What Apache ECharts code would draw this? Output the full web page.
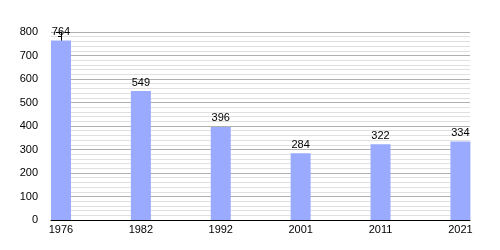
<!DOCTYPE html>
<html><head><meta charset="utf-8">
<script src="https://cdn.jsdelivr.net/npm/echarts@6/dist/echarts.min.js"></script>
<style>html,body{margin:0;padding:0;background:#fff}#c{width:500px;height:250px}</style>
</head><body><div id="c"></div>
<script>
const categories = ['1976', '1982', '1992', '2001', '2011', '2021'];
const values = [764, 549, 396, 284, 322, 334];
const yTicks = [0, 100, 200, 300, 400, 500, 600, 700, 800];

const chart = echarts.init(document.getElementById('c'), null, {renderer: 'canvas'});
const font = 'Liberation Sans, Arial, sans-serif';
chart.setOption({
  animation: false,
  grid: {left: 51, right: 30, top: 32, bottom: 30, containLabel: false},
  xAxis: {
    type: 'value', min: -0.125, max: 5.12,
    axisLine: {show: true, onZero: false, lineStyle: {color: '#000', width: 1}},
    axisTick: {show: false},
    splitLine: {show: false},
    axisLabel: {
      customValues: categories.map((c, i) => i),
      formatter: v => categories[Math.round(v)],
      color: '#000', fontSize: 11, fontFamily: font, margin: 4
    }
  },
  yAxis: {
    type: 'value', min: 0, max: yTicks[yTicks.length - 1], interval: 100,
    axisLine: {show: true, lineStyle: {color: '#000', width: 1}},
    axisTick: {show: true, length: 5, lineStyle: {color: '#000'}},
    minorTick: {show: true, splitNumber: 5, length: 3, lineStyle: {color: '#000'}},
    splitLine: {show: true, lineStyle: {color: '#b0b0b0', width: 1}},
    minorSplitLine: {show: true, lineStyle: {color: '#e0e0e0', width: 1}},
    axisLabel: {color: '#000', fontSize: 11, fontFamily: font, margin: 13}
  },
  series: [{
    type: 'bar',
    data: values.map((v, i) => [i, v]),
    barWidth: 20,
    itemStyle: {color: '#9aabff'},
    label: {show: true, position: 'top', distance: 3, color: '#000', fontSize: 11, fontFamily: font}
  }]
});
</script></body></html>
